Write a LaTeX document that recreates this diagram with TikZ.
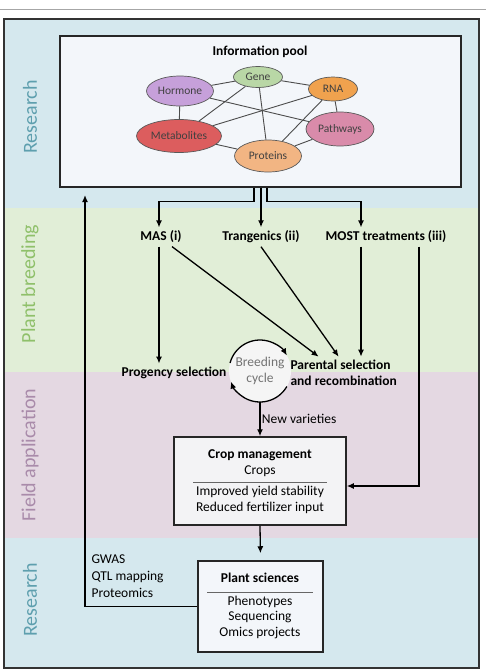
\documentclass[tikz,border=0pt]{standalone}
\usepackage{fontspec}
\setmainfont{Carlito}
\usetikzlibrary{arrows.meta,positioning,shapes.geometric}

\definecolor{resband}{HTML}{D5E8EE}
\definecolor{breedband}{HTML}{E1EED7}
\definecolor{fieldband}{HTML}{E4D8E2}
\definecolor{reslabel}{HTML}{5E9FAE}
\definecolor{breedlabel}{HTML}{8FC06A}
\definecolor{fieldlabel}{HTML}{A98BAA}
\definecolor{poolfill}{HTML}{F3F6FA}
\definecolor{boxfill}{HTML}{F3F3F5}
\definecolor{genecol}{HTML}{B9D7A6}
\definecolor{hormcol}{HTML}{C6A0DA}
\definecolor{rnacol}{HTML}{F0A24E}
\definecolor{metcol}{HTML}{DC5D5E}
\definecolor{pathcol}{HTML}{D98BAA}
\definecolor{protcol}{HTML}{F2B583}

\begin{document}
\begin{tikzpicture}[
    x=1pt, y=-1pt,
    font=\fontsize{13.5}{16}\selectfont,
    >={Latex[length=7pt,width=6pt]},
    flow/.style={->, line width=1.3pt},
    link/.style={draw=black!70, line width=0.9pt},
    lane/.style={rotate=90, font=\fontsize{20}{22}\selectfont},
    mol/.style={ellipse, draw=black!65, line width=0.7pt, inner sep=0pt,
                text=black!75, font=\fontsize{11.5}{12}\selectfont},
    blk/.style={draw=black!85, line width=1.5pt, fill=boxfill},
    lbl/.style={font=\bfseries\fontsize{13.5}{16}\selectfont, align=center}
  ]
  \useasboundingbox (0,0) rectangle (486,672);
  \draw[black!35, line width=0.8pt] (0,9) -- (486,9);

  % Bands
  \fill[resband]   (4,19)  rectangle (479,208);
  \fill[breedband] (4,208) rectangle (479,372);
  \fill[fieldband] (4,372) rectangle (479,538);
  \fill[resband]   (4,538) rectangle (479,668);
  \draw[black!80, line width=1.5pt] (4,19) rectangle (479,668);

  \node[lane, text=reslabel]   (laneres)   at (30,117) {Research};
  \node[lane, text=breedlabel] (lanebreed) at (30,284) {Plant breeding};
  \node[lane, text=fieldlabel] (lanefield) at (30,455) {Field application};
  \node[lane, text=reslabel]   (laneres2)  at (30,600) {Research};

  % Information pool
  \node[blk, fill=poolfill, minimum width=401pt, minimum height=151pt] (pool) at (260.5,111.5) {};
  \node[lbl] (pooltitle) at (260,52) {Information pool};

  \node[mol, fill=genecol, minimum width=49pt, minimum height=21pt] (gene) at (258,77) {Gene};
  \node[mol, fill=hormcol, minimum width=67pt, minimum height=30pt] (horm) at (180,91) {Hormone};
  \node[mol, fill=rnacol,  minimum width=49pt, minimum height=24pt] (rna)  at (333,89) {RNA};
  \node[mol, fill=metcol,  minimum width=85pt, minimum height=33pt] (met)  at (179,136) {Metabolites};
  \node[mol, fill=pathcol, minimum width=68pt, minimum height=34pt] (path) at (340,129) {Pathways};
  \node[mol, fill=protcol, minimum width=67pt, minimum height=32pt] (prot) at (268,156) {Proteins};

  \foreach \a/\b in {horm/gene, gene/rna, horm/met, rna/path, met/prot, prot/path,
                     gene/met, gene/prot, rna/met, rna/prot, horm/path}
    \draw[link] (\a) -- (\b);

  % Plant breeding
  \node[lbl] (mas)   at (161,237) {MAS (i)};
  \node[lbl] (trans) at (261,237) {Trangenics (ii)};
  \node[lbl] (most)  at (386,237) {MOST treatments (iii)};

  \draw[flow] ([xshift=-6.5pt]pool.south) -- ++(0,14) -| ([xshift=-2pt]mas.north);
  \draw[flow] ([xshift=0.5pt]pool.south) -- (trans.north);
  \draw[flow] ([xshift=6.5pt]pool.south) -- ++(0,14) -| ([xshift=-25pt]most.north);

  \node[circle, fill=black!4, minimum size=62pt, inner sep=0pt, align=center,
        text=black!55] (cyc) at (260,371) {Breeding\\cycle};
  \node[lbl, anchor=east] (prog) at (230,373) {Progency selection};
  \node[lbl, anchor=west, align=left] (par) at (287,373) {Parental selection\\and recombination};

  \draw[flow] ([shift={(165:31pt)}]cyc.center) arc[start angle=165, end angle=30, radius=31pt];
  \draw[flow] ([shift={(-30:31pt)}]cyc.center) arc[start angle=-30, end angle=-160, radius=31pt];

  \draw[flow] ([xshift=-2pt]mas.south) -- ([xshift=-2pt]mas.south |- prog.north);
  \draw[flow] ([xshift=11pt]mas.south) -- ([xshift=-25pt]par.north);
  \draw[flow] (trans.south) -- ([xshift=-5pt]par.north);
  \draw[flow] ([xshift=-25pt]most.south) -- ([xshift=-25pt]most.south |- par.north);

  % Field application
  \node[blk, minimum width=172pt, minimum height=88pt] (crop) at (260,481) {};
  \node[align=center] (croptop) at (260,463) {\textbf{Crop management}\\Crops};
  \node[align=center] (cropbot) at (260,500) {Improved yield stability\\Reduced fertilizer input};
  \draw[black!60, line width=0.8pt] (193,482) -- (327,482);

  \draw[flow] (cyc.south) -- node[right, xshift=-2pt] {New varieties} (crop.north);
  \draw[flow] ([xshift=33pt]most.south) |- ([yshift=-5pt]crop.east);

  % Research
  \node[blk, fill=poolfill, minimum width=125pt, minimum height=91pt] (plant) at (260.5,606.5) {};
  \node[lbl] (planttop) at (260,578) {Plant sciences};
  \node[align=center, font=\fontsize{13.5}{15.5}\selectfont] (plantbot) at (260,617)
    {Phenotypes\\Sequencing\\Omics projects};
  \draw[black!60, line width=0.8pt] (207,592) -- (313,592);

  \draw[flow, shorten >=7pt] (crop.south) -- (plant.north);

  \coordinate (back) at (85,195);
  \draw[flow] (plant.west) -| (back);
  \node[anchor=west, align=left, font=\fontsize{13.5}{17}\selectfont] (omics) at (88,576)
    {GWAS\\QTL mapping\\Proteomics};
\end{tikzpicture}
\end{document}
